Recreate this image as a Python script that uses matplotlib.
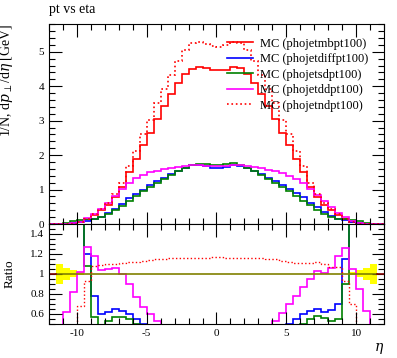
import numpy as np
import matplotlib
matplotlib.use('Agg')
import matplotlib.pyplot as plt
from matplotlib.lines import Line2D
from matplotlib.ticker import MultipleLocator, FixedLocator, FuncFormatter

plt.rcParams['font.family'] = ['Liberation Serif', 'DejaVu Serif']
plt.rcParams['mathtext.fontset'] = 'dejavuserif'

# bins in eta
edges = np.arange(-12.0, 12.01, 0.5)

# 1/N dpT/deta, one value per bin (-11.75 ... 11.75)
mb = [0, 0.002, 0.005, 0.02, 0.07, 0.14, 0.26, 0.40, 0.56, 0.78, 1.08, 1.50,
      1.90, 2.30, 2.65, 3.05, 3.42, 3.78, 4.10, 4.35, 4.50, 4.56, 4.52, 4.47,
      4.46, 4.47, 4.56, 4.52, 4.36, 4.10, 3.78, 3.44, 3.05, 2.65, 2.30, 1.90,
      1.50, 1.08, 0.78, 0.56, 0.40, 0.26, 0.14, 0.07, 0.02, 0.005, 0.002, 0]
diff = [0, 0.003, 0.01, 0.03, 0.06, 0.10, 0.14, 0.21, 0.32, 0.44, 0.58, 0.76,
        0.88, 1.00, 1.12, 1.24, 1.34, 1.44, 1.54, 1.63, 1.70, 1.72, 1.69, 1.64,
        1.63, 1.66, 1.71, 1.69, 1.63, 1.54, 1.44, 1.34, 1.24, 1.13, 1.02, 0.90,
        0.78, 0.62, 0.48, 0.34, 0.22, 0.14, 0.11, 0.07, 0.03, 0.01, 0.003, 0]
sd = [0, 0.003, 0.02, 0.08, 0.13, 0.14, 0.15, 0.19, 0.28, 0.40, 0.53, 0.68,
      0.82, 0.95, 1.07, 1.20, 1.31, 1.43, 1.54, 1.64, 1.72, 1.75, 1.73, 1.70,
      1.70, 1.73, 1.76, 1.72, 1.64, 1.53, 1.42, 1.30, 1.19, 1.07, 0.95, 0.82,
      0.68, 0.54, 0.41, 0.30, 0.20, 0.15, 0.14, 0.13, 0.08, 0.02, 0.003, 0]
dd = [0, 0.001, 0.005, 0.02, 0.07, 0.17, 0.30, 0.43, 0.60, 0.80, 1.02, 1.20,
      1.33, 1.43, 1.50, 1.55, 1.59, 1.62, 1.65, 1.68, 1.70, 1.70, 1.68, 1.67,
      1.67, 1.68, 1.70, 1.70, 1.68, 1.65, 1.62, 1.58, 1.53, 1.47, 1.40, 1.30,
      1.18, 1.02, 0.84, 0.66, 0.48, 0.33, 0.19, 0.08, 0.025, 0.006, 0.001, 0]
nd = [0, 0, 0.001, 0.009, 0.048, 0.136, 0.28, 0.44, 0.62, 0.87, 1.20, 1.68,
      2.13, 2.60, 3.02, 3.51, 3.92, 4.32, 4.72, 5.06, 5.24, 5.29, 5.22, 5.18,
      5.15, 5.20, 5.29, 5.24, 5.06, 4.72, 4.32, 3.92, 3.51, 3.02, 2.60, 2.13,
      1.68, 1.20, 0.87, 0.62, 0.44, 0.28, 0.136, 0.048, 0.009, 0.001, 0, 0]

# ratios to phojetmbpt100
r_diff = [np.nan, 3, 3, 2.5, 1.8, 1.20, 0.78, 0.60, 0.62, 0.65, 0.63, 0.60,
          0.55, 0.50, 0.47, 0.44, 0.42, 0.40, 0.39, 0.38, 0.38, 0.38, 0.37, 0.37,
          0.37, 0.37, 0.38, 0.38, 0.38, 0.39, 0.40, 0.42, 0.44, 0.47, 0.50, 0.55,
          0.60, 0.63, 0.65, 0.62, 0.64, 0.70, 1.15, 2.0, 2.5, 3, 3, np.nan]
r_sd = [np.nan, 3, 3, 2.5, 2.0, 1.08, 0.57, 0.47, 0.53, 0.57, 0.57, 0.55,
        0.50, 0.46, 0.43, 0.41, 0.40, 0.39, 0.38, 0.38, 0.38, 0.38, 0.38, 0.38,
        0.38, 0.38, 0.38, 0.38, 0.38, 0.38, 0.39, 0.40, 0.42, 0.44, 0.46, 0.48,
        0.50, 0.55, 0.58, 0.56, 0.53, 0.55, 0.90, 2.0, 2.5, 3, 3, np.nan]
r_dd = [np.nan, 0.3, 0.62, 0.82, 1.02, 1.27, 1.18, 1.04, 1.05, 1.06, 1.00, 0.90,
        0.77, 0.67, 0.60, 0.53, 0.47, 0.43, 0.40, 0.39, 0.38, 0.37, 0.37, 0.37,
        0.37, 0.37, 0.37, 0.38, 0.39, 0.40, 0.43, 0.47, 0.53, 0.61, 0.70, 0.78,
        0.87, 0.95, 1.03, 1.01, 1.06, 1.18, 1.26, 1.05, 0.85, 0.63, 0.3, np.nan]
r_nd = [np.nan, 0.10, 0.20, 0.45, 0.68, 0.93, 1.08, 1.09, 1.10, 1.10, 1.11, 1.12,
        1.12, 1.13, 1.14, 1.15, 1.15, 1.155, 1.16, 1.16, 1.16, 1.16, 1.16, 1.17,
        1.165, 1.16, 1.16, 1.16, 1.16, 1.155, 1.155, 1.15, 1.15, 1.13, 1.12, 1.11,
        1.11, 1.11, 1.12, 1.10, 1.07, 1.07, 0.93, 0.70, 0.45, 0.20, 0.10, np.nan]
# stat. uncertainty of the reference (yellow band)
ref_err = [0, 0.10, 0.06, 0.035, 0.015, 0.004, 0.002, 0.002, 0.002, 0.002, 0.002, 0.002,
           0.002, 0.002, 0.002, 0.002, 0.002, 0.002, 0.002, 0.002, 0.002, 0.002, 0.002, 0.002,
           0.002, 0.002, 0.002, 0.002, 0.002, 0.002, 0.002, 0.002, 0.002, 0.002, 0.002, 0.002,
           0.002, 0.002, 0.002, 0.002, 0.002, 0.002, 0.004, 0.015, 0.035, 0.06, 0.10, 0]

labels = ['MC (phojetmbpt100)', 'MC (phojetdiffpt100)', 'MC (phojetsdpt100)',
          'MC (phojetddpt100)', 'MC (phojetndpt100)']
colors = ['red', 'blue', 'green', 'magenta', 'red']
styles = ['-', '-', '-', '-', ':']

fig = plt.figure(figsize=(3.97, 3.58), dpi=100)
ax = fig.add_axes([0.1234, 0.3743, 0.8438, 0.5600])
axr = fig.add_axes([0.1234, 0.0950, 0.8438, 0.2793])

lw = 1.2
series = [mb, diff, sd, dd, nd]
for vals, c, ls in zip(series, colors, styles):
    ax.stairs(vals, edges, color=c, linestyle=ls, lw=lw, baseline=None)

ax.set_xlim(-12, 12)
ax.set_ylim(0, 5.82)

# ratio panel
err = np.array(ref_err)
axr.stairs(1 + err, edges, baseline=1 - err, fill=True, color='yellow', lw=0)
axr.plot([-11.5, 11.5], [1, 1], color='#808000', lw=1.2)
axr.plot([-12, -11.5], [1, 1], color='#800000', lw=1.2)
axr.plot([11.5, 12], [1, 1], color='#800000', lw=1.2)
for vals, c, ls in zip([r_diff, r_sd, r_dd, r_nd], colors[1:], styles[1:]):
    axr.stairs(vals, edges, color=c, linestyle=ls, lw=lw if ls == '-' else 1.0, baseline=None)
axr.set_xlim(-12, 12)
axr.set_ylim(0.5, 1.5)

for a in (ax, axr):
    a.tick_params(which='both', direction='in', top=True, right=True, labelsize=8)
    a.tick_params(which='major', length=9, width=0.8)
    a.tick_params(which='minor', length=4.5, width=0.8)
    a.xaxis.set_major_locator(MultipleLocator(5))
    a.xaxis.set_minor_locator(MultipleLocator(1))
    for s in a.spines.values():
        s.set_linewidth(0.8)

ax.yaxis.set_major_locator(MultipleLocator(1))
ax.yaxis.set_minor_locator(MultipleLocator(0.2))
ax.tick_params(labelbottom=False)
axr.yaxis.set_major_locator(FixedLocator([0.6, 0.8, 1.0, 1.2, 1.4]))
axr.yaxis.set_minor_locator(MultipleLocator(0.05))
axr.yaxis.set_major_formatter(FuncFormatter(lambda v, p: '%g' % v))
axr.xaxis.set_major_formatter(FuncFormatter(lambda v, p: '%g' % v))

ax.set_ylabel(r'1/N, d$p_\perp$/d$\eta$ [GeV]', fontsize=10, loc='top')
ax.yaxis.set_label_coords(-0.10, 1.0)
axr.set_ylabel('Ratio', fontsize=9.5)
axr.yaxis.set_label_coords(-0.10, 0.5)
axr.set_xlabel(r'$\eta$', fontsize=10, loc='right', labelpad=2)

fig.text(0.1234, 1 - 10 / 358, 'pt vs eta', fontsize=10, va='center')

handles = [Line2D([], [], color=c, linestyle=ls, lw=lw) for c, ls in zip(colors, styles)]
ax.legend(handles, labels, loc='upper left', bbox_to_anchor=(0.53, 0.93),
          frameon=False, fontsize=9, handlelength=2.1, handletextpad=0.6,
          labelspacing=0.28, borderpad=0, borderaxespad=0)

fig.savefig('out.png', dpi=100)
